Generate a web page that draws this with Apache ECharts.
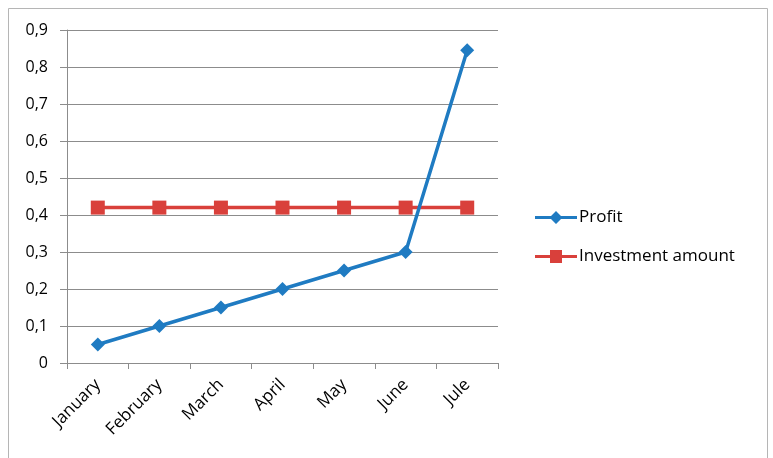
<!DOCTYPE html>
<html>
<head>
<meta charset="utf-8">
<script src="https://cdn.jsdelivr.net/npm/echarts@6/dist/echarts.min.js"></script>
<style>
  html, body { margin: 0; padding: 0; background: #fff; }
  #chart { width: 773px; height: 458px; }
</style>
</head>
<body>
<div id="chart"></div>
<script>
// Monthly categories and series values
const months = ['January', 'February', 'March', 'April', 'May', 'June', 'Jule'];
const profit = [0.05, 0.10, 0.15, 0.20, 0.25, 0.30, 0.845];
const investment = [0.42, 0.42, 0.42, 0.42, 0.42, 0.42, 0.42];

const chart = echarts.init(document.getElementById('chart'));
const font = 'Open Sans, Lato, sans-serif';

chart.setOption({
  animation: false,
  graphic: [{
    type: 'rect',
    shape: { x: 8.5, y: 8.5, width: 759, height: 470 },
    style: { fill: 'none', stroke: '#b5b5b5', lineWidth: 1 },
    silent: true
  }],
  grid: { left: 67, right: 275, top: 30, bottom: 95 },
  legend: {
    orient: 'vertical',
    left: 530,
    top: 204,
    itemGap: 22,
    itemWidth: 42,
    itemHeight: 13,
    textStyle: { fontFamily: font, fontSize: 17, color: '#000', padding: [0, 0, 0, -3] },
    data: [
      { name: 'Profit', icon: 'path://M0,5 L16,5 L21,0 L26,5 L42,5 L42,8 L26,8 L21,13 L16,8 L0,8 Z' },
      { name: 'Investment amount', icon: 'path://M0,5 L15,5 L15,0 L27,0 L27,5 L42,5 L42,8 L27,8 L27,13 L15,13 L15,8 L0,8 Z' }
    ]
  },
  xAxis: {
    type: 'category',
    data: months,
    boundaryGap: true,
    axisLine: { lineStyle: { color: '#8c8c8c', width: 1 } },
    axisTick: { show: true, length: 6, interval: 0, lineStyle: { color: '#8c8c8c' } },
    axisLabel: {
      rotate: 45,
      interval: 0,
      margin: 19,
      fontFamily: font,
      fontSize: 17,
      color: '#000'
    }
  },
  yAxis: {
    type: 'value',
    min: 0,
    max: 0.9,
    interval: 0.1,
    axisLine: { show: true, lineStyle: { color: '#8c8c8c', width: 1 } },
    axisTick: { show: true, length: 7, lineStyle: { color: '#8c8c8c' } },
    splitLine: { lineStyle: { color: '#8c8c8c', width: 1 } },
    axisLabel: {
      margin: 19,
      fontFamily: font,
      fontSize: 16,
      color: '#000',
      formatter: v => v === 0 ? '0' : v.toFixed(1).replace('.', ',')
    }
  },
  series: [
    {
      name: 'Profit',
      type: 'line',
      data: profit,
      symbol: 'diamond',
      symbolSize: 14,
      lineStyle: { color: '#1f7bc2', width: 3.5 },
      itemStyle: { color: '#1f7bc2' },
      z: 3
    },
    {
      name: 'Investment amount',
      type: 'line',
      data: investment,
      symbol: 'rect',
      symbolSize: 14,
      lineStyle: { color: '#d9403b', width: 3.5 },
      itemStyle: { color: '#d9403b' },
      z: 2
    }
  ]
});
</script>
</body>
</html>
